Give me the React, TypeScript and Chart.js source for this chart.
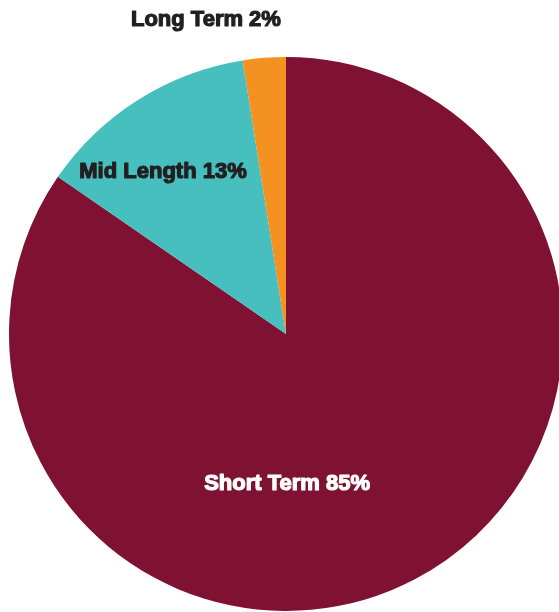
import React, { useEffect, useRef } from "react";
import { Chart, registerables } from "chart.js";

Chart.register(...registerables);

const categories = ["Short Term", "Mid Length", "Long Term"];
const shares = [84.6, 12.9, 2.5];
const displayLabels = ["Short Term 85%", "Mid Length 13%", "Long Term 2%"];
const sliceColors = ["#7F1233", "#47BFBF", "#F39220"];
const labelColors = ["#FFFFFF", "#231F20", "#231F20"];
// label anchor offsets as fractions of the pie radius, relative to centre
const labelOffsets = [
  [0.004, 0.542],
  [-0.444, -0.585],
  [-0.289, -1.134],
];

const labelPlugin = {
  id: "manualLabels",
  afterDatasetsDraw(chart: any) {
    const meta = chart.getDatasetMeta(0);
    const ctx = chart.ctx;
    ctx.save();
    ctx.font = "bold 22px 'Liberation Sans', Arial, sans-serif";
    ctx.textAlign = "center";
    ctx.textBaseline = "middle";
    ctx.lineJoin = "round";
    ctx.lineWidth = 1.2;
    meta.data.forEach((arc: any, i: number) => {
      const r = arc.outerRadius;
      const x = arc.x + labelOffsets[i][0] * r;
      const y = arc.y + labelOffsets[i][1] * r;
      ctx.fillStyle = labelColors[i];
      ctx.strokeStyle = labelColors[i];
      ctx.fillText(displayLabels[i], x, y);
      ctx.strokeText(displayLabels[i], x, y);
    });
    ctx.restore();
  },
};

export default function App() {
  const ref = useRef<HTMLCanvasElement | null>(null);
  useEffect(() => {
    if (!ref.current) return;
    const chart = new Chart(ref.current, {
      type: "pie",
      data: {
        labels: categories,
        datasets: [
          {
            data: shares,
            backgroundColor: sliceColors,
            borderWidth: 0,
            hoverOffset: 0,
          },
        ],
      },
      options: {
        animation: false,
        responsive: false,
        events: [],
        layout: { padding: { left: 9, top: 57, right: 7, bottom: 9 } },
        plugins: {
          legend: { display: false },
          tooltip: { enabled: false },
        },
      },
      plugins: [labelPlugin],
    });
    return () => chart.destroy();
  }, []);
  return (
    <div
      style={{
        position: "fixed",
        left: 0,
        top: 0,
        width: 559,
        height: 612,
        overflow: "hidden",
        background: "#FFFFFF",
      }}
    >
      <canvas
        ref={ref}
        width={570}
        height={620}
        style={{ position: "absolute", left: 0, top: 0, width: 570, height: 620 }}
      />
    </div>
  );
}
